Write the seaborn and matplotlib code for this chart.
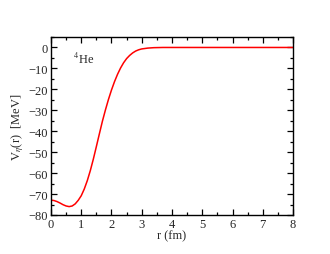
import numpy as np
import pandas as pd
import seaborn as sns
import matplotlib
matplotlib.use("Agg")
import matplotlib.pyplot as plt
from matplotlib.ticker import MultipleLocator

# eta-nucleus potential for 4He
r_fm = [0.0, 0.1, 0.2, 0.3, 0.4, 0.5, 0.6, 0.7, 0.8, 0.9, 1.0, 1.1, 1.2, 1.3, 1.4,
        1.5, 1.6, 1.7, 1.8, 1.9, 2.0, 2.1, 2.2, 2.3, 2.4, 2.5, 2.6, 2.7, 2.8, 2.9,
        3.0, 3.2, 3.4, 3.7, 4.0, 5.0, 6.0, 7.0, 8.0]
V_mev = [-72.9, -73.1, -73.6, -74.3, -75.1, -75.7, -76.0, -75.7, -74.7, -73.0,
         -70.8, -67.6, -63.6, -58.8, -53.3, -47.3, -41.2, -35.2, -29.8, -24.8,
         -20.3, -16.3, -12.8, -9.8, -7.3, -5.3, -3.8, -2.6, -1.7, -1.1,
         -0.7, -0.3, -0.1, 0.0, 0.0, 0.0, 0.0, 0.0, 0.0]

df = pd.DataFrame({"r": r_fm, "V": V_mev})

sns.set_theme(style="ticks")
plt.rcParams["font.family"] = ["Liberation Serif", "DejaVu Serif"]
plt.rcParams["mathtext.fontset"] = "stix"

fig = plt.figure(figsize=(3.3, 2.55), dpi=100)
ax = fig.add_axes([0.1545, 0.153, 0.7335, 0.698])

sns.lineplot(data=df, x="r", y="V", color="red", linewidth=1.1, ax=ax)

ax.set_xlim(0, 8)
ax.set_ylim(-80, 5)
ax.xaxis.set_major_locator(MultipleLocator(1))
ax.xaxis.set_minor_locator(MultipleLocator(0.5))
ax.yaxis.set_major_locator(MultipleLocator(10))
ax.yaxis.set_minor_locator(MultipleLocator(5))
ax.tick_params(which="both", direction="in", top=True, right=True, labelsize=9,
               color="black", width=0.9, pad=2)
ax.tick_params(which="major", length=4)
ax.tick_params(which="minor", length=2)
for s in ax.spines.values():
    s.set_linewidth(1.0)
    s.set_color("black")

ax.set_xlabel("r (fm)", fontsize=9, labelpad=0)
ax.set_ylabel(r"V$_\eta$(r)  [MeV]", fontsize=9, labelpad=2)
ax.text(0.72, -7.5, r"$^4$He", fontsize=9)

fig.savefig("out.png", dpi=100)
